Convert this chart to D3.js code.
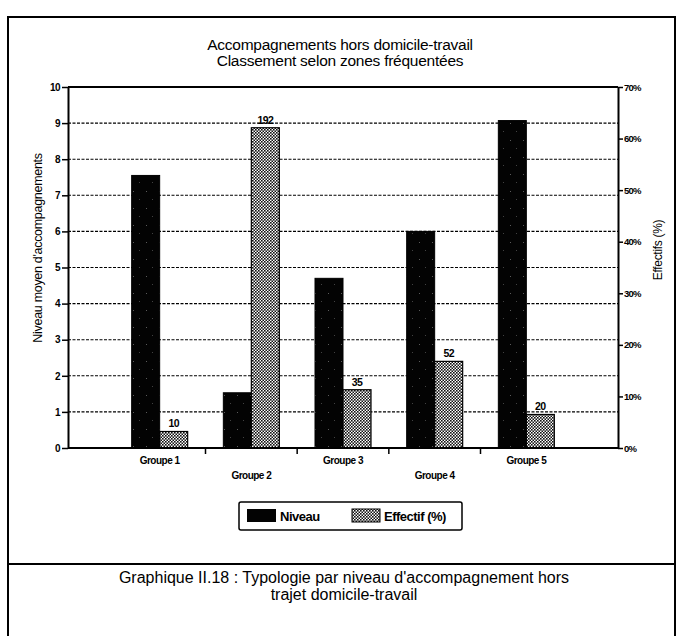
<!DOCTYPE html>
<html><head><meta charset="utf-8">
<script src="https://cdn.jsdelivr.net/npm/d3@7"></script>
<style>
html,body{margin:0;padding:0;background:#fff;}
svg{display:block;}
text{font-family:"Liberation Sans",Arial,Helvetica,sans-serif;fill:#000;}
</style></head>
<body>
<script>
const groups = ["Groupe 1","Groupe 2","Groupe 3","Groupe 4","Groupe 5"];
const niveau = [7.55, 1.53, 4.7, 6.0, 9.07];
const effectifPct = [3.2, 62.1, 11.3, 16.8, 6.5];
const effectifN = [10, 192, 35, 52, 20];
const leftTicks = [0,1,2,3,4,5,6,7,8,9,10];
const rightTicks = [0,10,20,30,40,50,60,70];
const titleLines = ["Accompagnements hors domicile-travail","Classement selon zones fréquentées"];
const captionLines = ["Graphique II.18 : Typologie par niveau d'accompagnement hors","trajet domicile-travail"];
const legendLabels = ["Niveau","Effectif (%)"];

const W = 678, H = 636;
const svg = d3.select("body").append("svg").attr("width",W).attr("height",H);
const defs = svg.append("defs");

// Patterns
const pd = defs.append("pattern").attr("id","dark").attr("patternUnits","userSpaceOnUse")
  .attr("width",13).attr("height",17);
pd.append("rect").attr("width",13).attr("height",17).attr("fill","#030303");
pd.append("rect").attr("x",3).attr("y",4).attr("width",1).attr("height",1).attr("fill","#fff").attr("opacity",0.35);
pd.append("rect").attr("x",9).attr("y",12).attr("width",1).attr("height",1).attr("fill","#fff").attr("opacity",0.25);

const pc = defs.append("pattern").attr("id","check").attr("patternUnits","userSpaceOnUse")
  .attr("width",3).attr("height",3);
pc.append("rect").attr("width",3).attr("height",3).attr("fill","#fff");
pc.append("rect").attr("x",0).attr("y",0).attr("width",1.6).attr("height",1.6).attr("fill","#111");
pc.append("rect").attr("x",1.5).attr("y",1.5).attr("width",1.6).attr("height",1.6).attr("fill","#111");

// Outer frame
svg.append("rect").attr("x",8).attr("y",17).attr("width",667).attr("height",640)
  .attr("fill","none").attr("stroke","#000").attr("stroke-width",2);
svg.append("line").attr("x1",8).attr("x2",675).attr("y1",564).attr("y2",564)
  .attr("stroke","#000").attr("stroke-width",2);

// Titles
svg.append("g").selectAll("text").data(titleLines).join("text")
  .attr("x",340).attr("y",(d,i)=>50+i*15.5).attr("text-anchor","middle")
  .attr("font-size",15.5).attr("letter-spacing",-0.25).text(d=>d);

const L = 68, R = 618, T = 87, B = 448;
const x = d3.scalePoint().domain(groups).range([L,R]).padding(1);
const yL = d3.scaleLinear().domain([0,10]).range([B,T]);
const yR = d3.scaleLinear().domain([0,70]).range([B,T]);
const bw = 28;

// Gridlines
svg.append("g").selectAll("line").data(leftTicks.filter(d=>d>0 && d<10)).join("line")
  .attr("x1",L).attr("x2",R).attr("y1",d=>yL(d)).attr("y2",d=>yL(d))
  .attr("stroke","#000").attr("stroke-width",1.1).attr("stroke-dasharray","3,1.5");

// Bars
const data = groups.map((g,i)=>({g, n:niveau[i], p:effectifPct[i], c:effectifN[i]}));
svg.append("g").selectAll("rect").data(data).join("rect")
  .attr("x",d=>x(d.g)-bw).attr("width",bw)
  .attr("y",d=>yL(d.n)).attr("height",d=>B-yL(d.n))
  .attr("fill","url(#dark)").attr("stroke","#000").attr("stroke-width",1);
svg.append("g").selectAll("rect").data(data).join("rect")
  .attr("x",d=>x(d.g)).attr("width",bw)
  .attr("y",d=>yR(d.p)).attr("height",d=>B-yR(d.p))
  .attr("fill","url(#check)").attr("stroke","#000").attr("stroke-width",1.2);
svg.append("g").selectAll("text").data(data).join("text")
  .attr("x",d=>x(d.g)+bw/2).attr("y",d=>yR(d.p)-4).attr("text-anchor","middle")
  .attr("font-size",10.5).attr("font-weight","bold").attr("letter-spacing",-0.6).text(d=>d.c);

// Frame lines
svg.append("line").attr("x1",L).attr("x2",R).attr("y1",T).attr("y2",T).attr("stroke","#000").attr("stroke-width",2);
svg.append("line").attr("x1",L).attr("x2",R).attr("y1",B).attr("y2",B).attr("stroke","#000").attr("stroke-width",2);

// Left axis
const gl = svg.append("g").attr("transform",`translate(${L},0)`)
  .call(d3.axisLeft(yL).tickValues(leftTicks).tickSize(6).tickSizeOuter(0).tickPadding(2));
gl.select(".domain").attr("stroke-width",2);
gl.selectAll(".tick line").attr("stroke-width",1.5);
gl.selectAll(".tick text").attr("font-size",10).attr("font-weight","bold").attr("letter-spacing",-0.5)
  .style("font-family","Liberation Sans, Arial, sans-serif");

// Right axis
const gr = svg.append("g").attr("transform",`translate(${R},0)`)
  .call(d3.axisRight(yR).tickValues(rightTicks).tickFormat(d=>d+"%").tickSize(5).tickSizeOuter(0).tickPadding(1));
gr.select(".domain").attr("stroke-width",2);
gr.selectAll(".tick line").attr("stroke-width",1.5);
gr.selectAll(".tick text").attr("font-size",9.5).attr("font-weight","bold").attr("letter-spacing",-0.8)
  .style("font-family","Liberation Sans, Arial, sans-serif");

// X ticks at group boundaries
const bounds = groups.slice(0,-1).map((g,i)=>(x(g)+x(groups[i+1]))/2);
svg.append("g").selectAll("line").data(bounds).join("line")
  .attr("x1",d=>d).attr("x2",d=>d).attr("y1",B).attr("y2",B+6)
  .attr("stroke","#000").attr("stroke-width",1.5);
svg.append("g").selectAll("text").data(groups).join("text")
  .attr("x",d=>x(d)).attr("y",(d,i)=>i%2===0?464:479).attr("text-anchor","middle")
  .attr("font-size",10).attr("font-weight","bold").attr("letter-spacing",-0.5).text(d=>d);

// Axis titles
svg.append("text").attr("transform","translate(42,248) rotate(-90)").attr("text-anchor","middle")
  .attr("font-size",12.5).attr("letter-spacing",-0.3).text("Niveau moyen d'accompagnements");
svg.append("text").attr("transform","translate(662,250) rotate(-90)").attr("text-anchor","middle")
  .attr("font-size",12).attr("letter-spacing",-0.3).text("Effectifs (%)");

// Legend
const lg = svg.append("g");
lg.append("rect").attr("x",239).attr("y",502).attr("width",223).attr("height",28).attr("rx",2)
  .attr("fill","#fff").attr("stroke","#000").attr("stroke-width",1.5);
lg.append("rect").attr("x",247).attr("y",509).attr("width",29).attr("height",13).attr("fill","#030303");
lg.append("text").attr("x",280).attr("y",520.5).attr("font-size",13).attr("font-weight","bold").attr("letter-spacing",-0.5).text(legendLabels[0]);
lg.append("rect").attr("x",352).attr("y",509).attr("width",28).attr("height",13).attr("fill","url(#check)").attr("stroke","#000").attr("stroke-width",1);
lg.append("text").attr("x",384).attr("y",520.5).attr("font-size",13).attr("font-weight","bold").attr("letter-spacing",-0.5).text(legendLabels[1]);

// Caption
svg.append("g").selectAll("text").data(captionLines).join("text")
  .attr("x",344).attr("y",(d,i)=>583+i*16.5).attr("text-anchor","middle")
  .attr("font-size",16).text(d=>d);
</script>
</body></html>
